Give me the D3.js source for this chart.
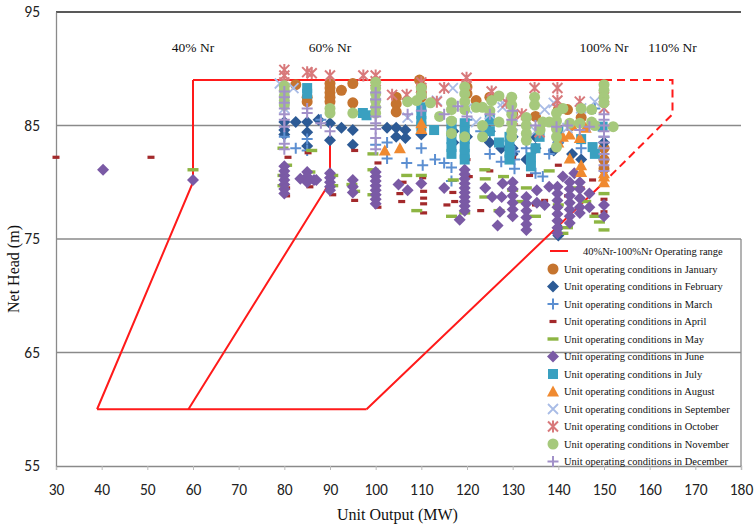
<!DOCTYPE html>
<html>
<head>
<meta charset="utf-8">
<script src="https://cdn.jsdelivr.net/npm/d3@7"></script>
<style>
  body { margin: 0; background: #fff; }
  .tick-lab { font-family: Carlito, Lato, sans-serif; font-size: 15.5px; fill: #222; }
  .serif { font-family: "Liberation Serif", "DejaVu Serif", serif; fill: #111; }
</style>
</head>
<body>
<div id="chart"></div>
<script>
// Net head vs unit output, operating points per month

const xTicks = [30, 40, 50, 60, 70, 80, 90, 100, 110, 120, 130, 140, 150, 160, 170, 180];
const yTicks = [55, 65, 75, 85, 95];

// operating range outline (MW, m)
const nr40 = [[60, 89], [60, 80], [39, 60]];
const nr60 = [[90, 89], [90, 80], [59, 60]];
const nr100 = [[150, 89], [150, 80], [98, 60]];
const topLine = [[60, 89], [150, 89]];
const bottomLine = [[39, 60], [98, 60]];
const nr110 = [[150, 89], [165, 89], [165, 86], [150, 80]];
const nrLabels = ["40% Nr", "60% Nr", "100% Nr", "110% Nr"];
const nrLabelX = [60, 90, 150, 165];

const months = ["January", "February", "March", "April", "May", "June", "July",
                "August", "September", "October", "November", "December"];

const jan = [[82.5,88.6],[85,87.5],[85,87.1],[90,88.7],[90,88.3],[90,87.9],[90,87.5],[90,87.1],
  [92.5,88.1],[95,88.7],[95,87],[104.5,87.5],[104.5,86.9],[104.5,86.2],[109.6,89],[110,88.4],
  [110,87.9],[110,87.5],[120,88.4],[120,87.8],[122,87.2],[125,87.5],[130,86],[135,85.8],[140,86.4],
  [142,86.4],[145,85.7],[150,83],[150,82],[150,81.2]];
const feb = [[80,85.3],[80,84.6],[80,84.2],[82.5,85.3],[85,85.3],[85,84.4],[85,83.2],[87.5,85.5],
  [90,85.2],[90,83.7],[92.5,84.8],[95,84.6],[95,83.3],[102.5,84.8],[104.5,84.8],[104.5,84],
  [106.5,83.9],[106.5,84.6],[110,84.2],[117,84.5],[117,83.5],[120,84],[125,84.5],[125,83.5],
  [127.5,83],[130,84],[130,83],[130,82.5],[133,82],[135,84],[135,83],[140,76],[140,75.3],
  [140,83.5],[139,82.8],[143,82.5],[145,82],[150,83.5]];
const mar = [[80,84],[82.5,83],[85,83.8],[85,82.8],[88,85.5],[102.5,83.5],[102.5,82.1],[106.8,81.7],
  [110,83],[110.3,81.5],[113,82],[115,81.7],[116.6,81.3],[116.6,80.1],[120,85.5],[123,84.5],
  [125,82.5],[127.5,81.8],[130.4,82.7],[130.4,82],[130.4,81.2],[133,83],[135,80.8],[136.6,80.5],
  [138,82.5],[140,83.5],[143,85],[145,83],[148,86.5],[150,84],[100,83.3]];
const apr = [[30,82.2],[50.8,82.2],[80.8,82.2],[80.5,79.5],[80.5,78.8],[85.6,79.6],[85.2,82.6],
  [90.6,78.9],[95.4,78.4],[95.4,82.8],[100.5,81.7],[100.5,77.8],[105.3,79],[105.7,78.3],[106,80],
  [110.3,80.4],[110.5,79.2],[110.5,78.6],[110.5,78.1],[110.5,77.3],[115.6,78],[116.9,79.1],
  [117.3,78.3],[120,82],[120.5,80.5],[123,77.5],[125,81],[130,82.2],[130,79.5],[133.7,80.6],
  [135,78],[137,78.4],[140,81.5],[142,78.8],[145,79.5],[147.5,80.2],[150,77.4],[150,78.5],[148,77.2]];
const may = [[60,81.1],[79.7,83],[79.7,80.6],[79.7,79.7],[80.5,81.5],[86,82.8],[85.6,80.9],
  [90.6,80.6],[90.6,79.7],[94.8,79.8],[95.4,79.2],[99.4,81.1],[99.4,78.9],[99.4,82.5],[106.8,80.6],
  [110,80.6],[109,77.5],[116.6,77],[119.5,77.3],[117,80.2],[123.9,78.7],[123.9,81.1],[124,80.3],
  [127,77.5],[128,80.5],[130,79.3],[132,78.3],[133,79.5],[135,77],[138,81],[140,78],[141,75.5],
  [142,76],[144,79.5],[146,78.3],[148,77],[149,76.5],[150,75.8],[150,79]];
const jun = [[40.3,81.1],[60,80.2],
  [80,81.4],[80,81],[80,80.6],[80,80.2],[80,79.8],[80,79.4],[80,79],
  [83.5,80.3],[85,80.9],[85,80.5],[86.5,80.2],[85,80],[87,80.2],
  [90,80.8],[90,80.4],[90,80],[90,79.6],[90,79.3],
  [95,80.2],[95,79.6],[95,79.1],
  [100,80.9],[100,80.5],[100,80.1],[100,79.7],[100,79.3],[100,78.9],[100,78.5],[100,78.1],
  [105,79.8],[107,79.3],[110,79.9],
  [119.5,81.1],[119.5,80.7],[119.5,80.3],[119.5,79.9],[119.5,79.5],[119.5,79.1],[119.5,78.7],
  [119.5,78.3],[119.5,77.9],[119.5,77.5],[118.4,76.7],[115,79.5],[125.5,78.7],[124,79.5],
  [127.8,79.9],[127.6,78.7],[127.2,77.4],[126.7,76.2],
  [130,80],[130,79.4],[130,78.8],[130,78.2],[130,77.6],[130,77],
  [133,78.7],[133,78.1],[133,77.5],[133,76.9],[133,76.3],[133,75.8],
  [135.3,79.3],[135.3,78.2],[138,79.6],
  [139.8,79.6],[139.8,79],[139.8,78.4],[139.8,77.8],[139.8,77.2],[139.8,76.6],[139.8,76],[139.8,75.5],
  [142.5,80],[142.5,79.4],[142.5,78.8],[142.5,78.2],[142.5,77.6],[142.5,77],[142.5,76.4],
  [144.7,80],[144.7,79.4],[144.7,78.6],[144.7,77.8],[144.7,77.3],
  [146.8,79],[146.8,77.8],[141,80.5],[143.5,80.8],[137,78],[150,78],[150,77]];
const jul = [[85,88.3],[85,87.8],[97.2,86.1],[98,85.9],[110,86.6],[110,86],[110,85.4],[110,84.9],
  [112.8,84.6],[116.6,85.2],[116.6,84.5],[116.6,83.8],[116.6,83.1],[116.6,82.5],[119.5,85.2],
  [119.5,84.5],[119.5,83.8],[119.5,83.1],[119.5,82.5],[119.5,82],[125,85.5],[125,84.5],[127,83.5],
  [129.3,84],[129.3,83.3],[129.3,82.6],[129.3,82],[134,82.2],[134,81.4],[135.9,84],[135,83],
  [140,84.5],[145,83.8],[147.5,83.1],[149.7,84.9],[148,82.5]];
const aug = [[102,82.8],[105.3,83],[110,85.2],[110,84.7],[140,83.5],[142.5,84.2],[142.5,82.1],
  [144.7,83.9],[145,81.5],[145,80.9],[150,80.5],[150,80],[150,80.8],[143,85],[146,84.8],[141,84]];
const sep = [[79,88.7],[80,86.5],[82,88.3],[100,87],[107,85.7],[110,87.8],[113.4,87.2],[116.9,88.3],
  [120,86.5],[122,85.3],[125,86],[127.8,87],[127.8,86.6],[130,85],[137,86.4],[139,87],[142,84.8],
  [145,86.5],[148,87.1],[135,84.5]];
const oct = [[80,89.9],[80,89.4],[80,88.8],[85,89.7],[86,89.6],[90,89.4],[97.3,89.4],[100,89.4],
  [100,88.9],[103.6,87.7],[106.8,87.7],[110,88.8],[110,88.3],[113.4,87.1],[115,88.3],[119.9,89.2],
  [119.9,88.6],[125.4,88],[128.7,87],[134.8,88.3],[139.8,88.3],[139.8,87.2],[139.8,86.5],
  [144.7,87.1],[135.9,84.4],[130,85.5],[150,87.5],[150,86.5],[132,86]];
const nov = [[80,88.5],[80,88.1],[80,87.6],[80,87.2],[80,86.8],[90,86.5],[90,86.1],[95,86.1],
  [100,88.8],[100,88.3],[100,87.8],[100,87.2],[100,86.6],[100,86.1],[107,87.1],[109,87.2],
  [110,88.3],[110,87.7],[112,87],[116.6,87],[116.6,86.4],[116.6,85.4],[116.6,84.3],[114,85.8],
  [119.5,88.4],[119.5,87.8],[119.5,87.1],[119.5,86.4],[119.5,84],[122,86.6],[123.4,86.6],
  [123.4,84],[123.4,85],[125.4,87.2],[125,86.3],[127,87.6],[129.8,87.5],[129.8,86.8],[129.8,86],
  [129.8,85.2],[129.8,84.5],[129.8,84],[133,85.7],[133,85],[133,84.3],[133,83.7],[134.8,87.5],
  [134.8,86.8],[136.6,85.3],[139.6,86.1],[139.6,85.4],[139.6,84.7],[139.6,84],[139.6,83.1],[138,85.3],
  [142.5,85.2],[144.7,85.2],[147.3,86.4],[147.3,85.3],[150,88.6],[150,88.1],[150,87.5],[150,87],
  [152,84.9],[145,86.5],[141,86.5],[148,85],[127,85.3],[136,84.6]];
const dec = [[80,88],[80,87.5],[80,87],[80,86.5],[80,86],[80,85.5],[80,84.9],[80,83.4],[80,82.9],
  [85,86.5],[85,86.1],[88,85.2],[90,84.5],[100,87.9],[100,87.3],[100,86.6],[100,85.8],[100,85.2],
  [100,84.7],[100,83.9],[100,82.9],[107,86],[110,86.3],[115,86],[118,86.7],[120,85.8],[125,86],
  [129.8,85.5],[130,86.3],[135,85],[139.6,84.9],[142,85],[144.7,84.6],[146.8,84.9],
  [150,86],[150,85.5],[150,85],[150,84.5],[150,84],[150,83.5],[150,83],[150,82.5],[150,82],
  [150,81.5],[150,81]];

const height = 529,
      width = 755,
      margin = ({top: 12, right: 14, bottom: 63, left: 56});

const svg = d3.select("#chart")
    .append("svg")
    .attr("width", width)
    .attr("height", height);

const x = d3.scaleLinear()
    .domain([30, 180])
    .range([margin.left, width - margin.right]);

const y = d3.scaleLinear()
    .domain([55, 95])
    .range([height - margin.bottom, margin.top]);

// marker shapes per month
const shapes = [
  {fill: "#c5742f", path: "circle"},
  {fill: "#2c5a95", path: "M0,-6L6,0L0,6L-6,0Z"},
  {stroke: "#5c8fd1", path: "M-5.5,0H5.5M0,-5.5V5.5", sw: 2},
  {fill: "#a3292b", path: "M-3.5,-1.6H3.5V1.6H-3.5Z"},
  {fill: "#8db543", path: "M-5.5,-1.7H5.5V1.7H-5.5Z"},
  {fill: "#7a5aa5", path: "M0,-6L6,0L0,6L-6,0Z"},
  {fill: "#3aa0c0", path: "M-5,-5H5V5H-5Z"},
  {fill: "#f08a30", path: "M0,-6L6,5L-6,5Z"},
  {stroke: "#a9bce6", path: "M-5,-5L5,5M-5,5L5,-5", sw: 1.8},
  {stroke: "#d8797b", path: "M-5,-5L5,5M-5,5L5,-5M0,-6V6", sw: 2},
  {fill: "#a6c97c", path: "circle"},
  {stroke: "#a291c9", path: "M-5.5,0H5.5M0,-5.5V5.5", sw: 2}
];
const series = [jan, feb, mar, apr, may, jun, jul, aug, sep, oct, nov, dec];

// grid lines
svg.append("g")
  .selectAll("line")
  .data(yTicks.filter(d => d > 55))
  .join("line")
    .attr("x1", x(30))
    .attr("x2", x(180))
    .attr("y1", d => y(d))
    .attr("y2", d => y(d))
    .attr("stroke", d => d == 95 ? "#222" : "#8a8a8a")
    .attr("stroke-width", 1.3);

// axes
const xAxis = g => g
    .attr("transform", `translate(0,${y(55)})`)
    .call(d3.axisBottom(x).tickValues(xTicks).tickSize(4).tickPadding(14))
    .call(g => g.select(".domain").attr("stroke", "#8a8a8a").attr("stroke-width", 1.3))
    .call(g => g.selectAll(".tick line").attr("stroke", "#bbb"))
    .call(g => g.selectAll("text").attr("class", "tick-lab"));

const yAxis = g => g
    .attr("transform", `translate(${x(30)},0)`)
    .call(d3.axisLeft(y).tickValues(yTicks).tickSize(0).tickPadding(16))
    .call(g => g.select(".domain").attr("stroke", "#8a8a8a").attr("stroke-width", 1.3))
    .call(g => g.selectAll("text").attr("class", "tick-lab"));

svg.append("g").call(xAxis);
svg.append("g").call(yAxis);

// operating range
const line = d3.line().x(d => x(d[0])).y(d => y(d[1]));
for (let pts of [nr40, nr60, nr100, topLine, bottomLine]) {
  svg.append("path")
    .attr("d", line(pts))
    .attr("fill", "none")
    .attr("stroke", "#ff1a1a")
    .attr("stroke-width", 2);
}
svg.append("path")
  .attr("d", line(nr110))
  .attr("fill", "none")
  .attr("stroke", "#ff1a1a")
  .attr("stroke-width", 2)
  .attr("stroke-dasharray", "8,5");

svg.append("g")
  .selectAll("text")
  .data(nrLabels)
  .join("text")
    .attr("class", "serif")
    .attr("x", (d, i) => x(nrLabelX[i]))
    .attr("y", y(91.5))
    .attr("text-anchor", "middle")
    .style("font-size", "13.5px")
    .text(d => d);

function drawMarker(sel, s) {
  if (s.path == "circle") {
    sel.append("circle").attr("r", 5.5).attr("fill", s.fill);
  } else {
    sel.append("path")
      .attr("d", s.path)
      .attr("fill", s.fill || "none")
      .attr("stroke", s.stroke || "none")
      .attr("stroke-width", s.sw || 0);
  }
}

// points
series.forEach((data, i) => {
  svg.append("g")
    .selectAll("g")
    .data(data)
    .join("g")
      .attr("transform", d => `translate(${x(d[0])},${y(d[1])})`)
      .each(function() { drawMarker(d3.select(this), shapes[i]); });
});

// legend
const legend = svg.append("g").attr("transform", "translate(550,251)");
legend.append("line")
  .attr("x1", 0).attr("x2", 18)
  .attr("stroke", "#ff1a1a").attr("stroke-width", 2);
legend.append("text")
  .attr("class", "serif")
  .attr("x", 33).attr("y", 3.5)
  .style("font-size", "10.5px")
  .text("40%Nr-100%Nr Operating range");

months.forEach((m, i) => {
  const row = legend.append("g").attr("transform", `translate(3,${18 + i * 17.5})`);
  drawMarker(row, shapes[i]);
  row.append("text")
    .attr("class", "serif")
    .attr("x", 11).attr("y", 3.5)
    .style("font-size", "10.5px")
    .text("Unit operating conditions in " + m);
});

svg.append("line")
  .attr("x1", x(180)).attr("x2", x(180))
  .attr("y1", y(75)).attr("y2", y(55))
  .attr("stroke", "#8a8a8a").attr("stroke-width", 1.3);

// axis titles
svg.append("text")
  .attr("class", "serif")
  .attr("x", (x(30) + x(180)) / 2 - 1)
  .attr("y", 520)
  .attr("text-anchor", "middle")
  .style("font-size", "16px")
  .text("Unit Output (MW)");

svg.append("text")
  .attr("class", "serif")
  .attr("transform", `translate(19,${(y(55) + y(95)) / 2 + 30}) rotate(-90)`)
  .attr("text-anchor", "middle")
  .style("font-size", "16px")
  .text("Net Head (m)");
</script>
</body>
</html>
